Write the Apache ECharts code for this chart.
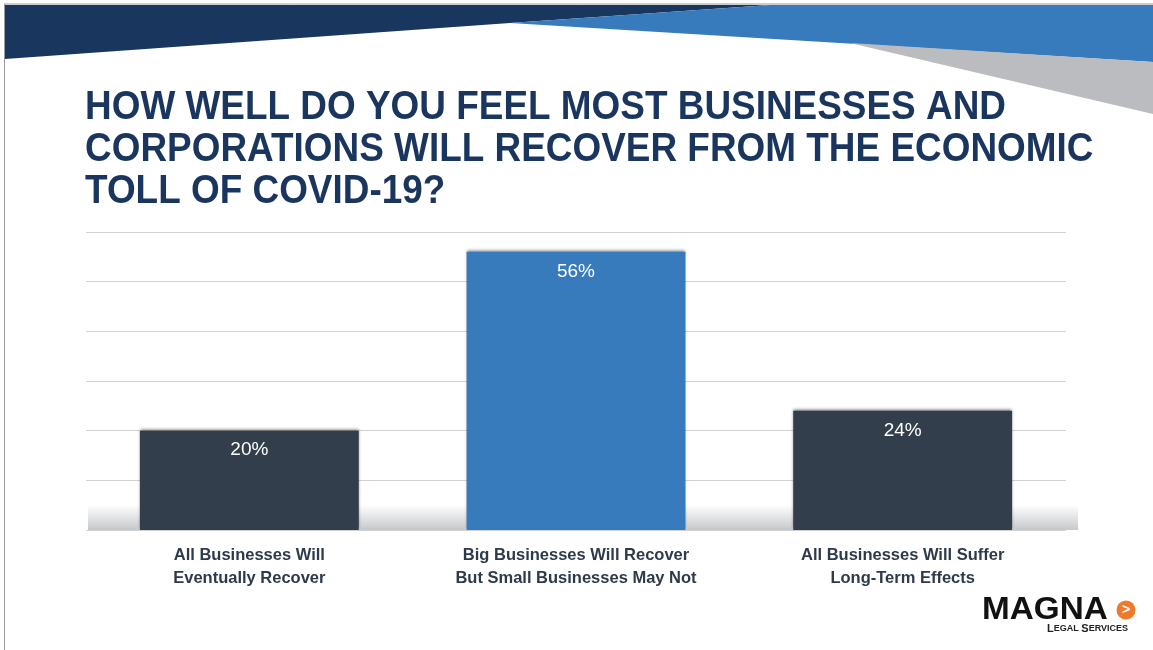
<!DOCTYPE html>
<html><head><meta charset="utf-8">
<script src="https://cdn.jsdelivr.net/npm/echarts@6/dist/echarts.min.js"></script>
<style>html,body{margin:0;padding:0;background:#fff}#c{width:1153px;height:650px}</style>
</head><body><div id="c"></div>
<script>
const titleLines = ['HOW WELL DO YOU FEEL MOST BUSINESSES AND', 'CORPORATIONS WILL RECOVER FROM THE ECONOMIC', 'TOLL OF COVID-19?'];
const categories = ['All Businesses Will\nEventually Recover', 'Big Businesses Will Recover\nBut Small Businesses May Not', 'All Businesses Will Suffer\nLong-Term Effects'];
const values = [20, 56, 24];
const barColors = ['#323e4b', '#377bbd', '#323e4b'];

const chart = echarts.init(document.getElementById('c'));
const F = '"Liberation Sans", Arial, sans-serif';
const graphics = [
  {type:'polygon', shape:{points:[[5,5],[770,5],[510,23],[5,59]]}, style:{fill:'#19365f'}, z:1},
  {type:'polygon', shape:{points:[[770,5],[1153,5],[1153,62],[510,23]]}, style:{fill:'#377bbd'}, z:1},
  {type:'polygon', shape:{points:[[850,43],[1153,62],[1153,114]]}, style:{fill:'#bbbcbf'}, z:1},
  {type:'line', shape:{x1:4,y1:4,x2:1153,y2:4}, style:{stroke:'#9a9a9a', lineWidth:1}, z:2},
  {type:'line', shape:{x1:4.5,y1:4,x2:4.5,y2:650}, style:{stroke:'#9a9a9a', lineWidth:1}, z:2},
  {type:'rect', shape:{x:88,y:505,width:990,height:25}, style:{fill:new echarts.graphic.LinearGradient(0,0,0,1,[{offset:0,color:'rgba(150,155,160,0)'},{offset:1,color:'rgba(150,155,160,0.55)'}])}, z:0},
  // logo
  {type:'text', x:982, y:610, scaleX:1.04, style:{text:'MAGNA', font:'bold 32px ' + F, fill:'#111', textVerticalAlign:'middle'}, z:5},
  {type:'circle', shape:{cx:1126, cy:610, r:9.5}, style:{fill:'#ee7b2b'}, z:5},
  {type:'text', x:1126, y:610, style:{text:'>', font:'bold 14px ' + F, fill:'#fff', textAlign:'center', textVerticalAlign:'middle'}, z:6},
  {type:'text', x:1128, y:629, style:{text:'{a|L}{b|EGAL }{a|S}{b|ERVICES}', rich:{a:{font:'bold 11px ' + F, fill:'#222'}, b:{font:'bold 9px ' + F, fill:'#222'}}, textAlign:'right', textVerticalAlign:'middle'}, z:5}
];
const titleY = [108, 150, 192];
titleLines.forEach((t,i)=>{
  graphics.push({type:'text', x:85, y:titleY[i], scaleX:0.923, style:{text:t, font:'bold 40px ' + F, fill:'#1a365f', textVerticalAlign:'middle'}, z:5});
});

chart.setOption({
  animation:false,
  grid:{left:86, right:87, top:232, bottom:120},
  xAxis:{type:'category', data:categories,
    axisLine:{show:false}, axisTick:{show:false},
    axisLabel:{margin:14, color:'#2e3a4a', fontFamily:F, fontWeight:'bold', fontSize:16.5, lineHeight:23}},
  yAxis:{type:'value', min:0, max:60, interval:10, axisLabel:{show:false}, axisLine:{show:false}, axisTick:{show:false},
    splitLine:{lineStyle:{color:'#d2d2d2', width:1}}},
  series:[{type:'bar', data:values.map((v,i)=>({value:v, itemStyle:{color:barColors[i]}})),
    barCategoryGap:'33%',
    itemStyle:{shadowColor:'rgba(0,0,0,0.5)', shadowBlur:3, shadowOffsetY:-2},
    label:{show:true, position:'insideTop', distance:10, formatter:'{c}%', color:'#fff', fontSize:19, fontFamily:F}}],
  graphic:graphics
});
</script></body></html>
